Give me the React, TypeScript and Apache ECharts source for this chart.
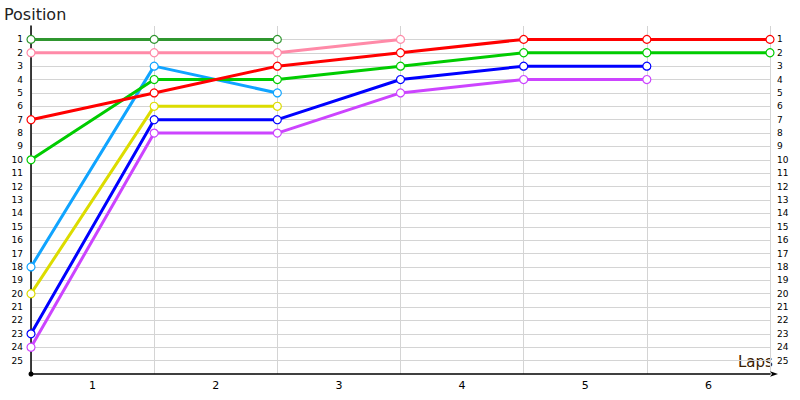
import React, { useEffect, useRef } from "react";
import * as echarts from "echarts";

const lapLabels = ["1", "2", "3", "4", "5", "6"];
const positionTicks = Array.from({ length: 25 }, (_, i) => i + 1);

const darkGreen = [1, 1, 1];
const pink = [2, 2, 2, 1];
const red = [7, 5, 3, 2, 1, 1, 1];
const green = [10, 4, 4, 3, 2, 2, 2];
const lightBlue = [18, 3, 5];
const yellow = [20, 6, 6];
const blue = [23, 7, 7, 4, 3, 3];
const purple = [24, 8, 8, 5, 4, 4];

const seriesDefs = [
  { name: "S1", data: darkGreen, color: "#2f962f" },
  { name: "S2", data: pink, color: "#ff8aa8" },
  { name: "S3", data: lightBlue, color: "#10a4ff" },
  { name: "S4", data: yellow, color: "#dcdc00" },
  { name: "S5", data: purple, color: "#cc44ff" },
  { name: "S6", data: blue, color: "#0000ff" },
  { name: "S7", data: green, color: "#00cc00" },
  { name: "S8", data: red, color: "#ff0000" },
];

export default function App() {
  const ref = useRef<HTMLDivElement>(null);
  useEffect(() => {
    if (!ref.current) return;
    const chart = echarts.init(ref.current, undefined, { renderer: "svg" });
    const splitColors = ["transparent", ...positionTicks.map(() => "#d4d4d4"), "transparent"];
    const labelFmt = (v: number) => (v >= 1 && v <= 25 ? String(v) : "");
    chart.setOption({
      animation: false,
      backgroundColor: "#ffffff",
      textStyle: { fontFamily: "DejaVu Sans" },
      grid: { left: 31, right: 30, top: 26, bottom: 26, containLabel: false },
      graphic: [
        {
          type: "text",
          left: 4,
          top: 6,
          style: { text: "Position", fontSize: 16, fill: "#222", fontFamily: "DejaVu Sans" },
        },
        {
          type: "text",
          left: 738,
          top: 354,
          style: { text: "Laps", fontSize: 15, fill: "#3a2000", fontFamily: "DejaVu Sans" },
        },
      ],
      xAxis: [
        {
          type: "value",
          min: 0,
          max: 6,
          interval: 1,
          axisLine: {
            show: true,
            onZero: false,
            lineStyle: { color: "#000", width: 1.5 },
            symbol: ["circle", "arrow"],
            symbolSize: [4, 8],
            symbolOffset: [0, 8],
          },
          axisTick: { show: false },
          axisLabel: { show: false },
          splitLine: { show: true, lineStyle: { color: "#d4d4d4", width: 1 } },
        },
        {
          type: "category",
          data: lapLabels,
          boundaryGap: true,
          position: "bottom",
          axisLine: { show: false },
          axisTick: { show: false },
          axisLabel: { color: "#000", fontSize: 11, margin: 6 },
          splitLine: { show: false },
        },
      ],
      yAxis: [
        {
          type: "value",
          inverse: true,
          min: 0,
          max: 26,
          interval: 1,
          position: "left",
          axisLine: {
            show: true,
            onZero: false,
            lineStyle: { color: "#000", width: 1.5 },
            symbol: ["circle", "none"],
            symbolSize: [5, 5],
          },
          axisTick: { show: false },
          axisLabel: { color: "#000", fontSize: 9, margin: 8, formatter: labelFmt },
          splitLine: { show: true, lineStyle: { color: splitColors, width: 1 } },
        },
        {
          type: "value",
          inverse: true,
          min: 0,
          max: 26,
          interval: 1,
          position: "right",
          offset: -1,
          axisLine: { show: false },
          axisTick: { show: false },
          axisLabel: { color: "#000", fontSize: 9, margin: 8, formatter: labelFmt },
          splitLine: { show: false },
        },
      ],
      series: seriesDefs.map((s) => ({
        type: "line",
        name: s.name,
        xAxisIndex: 0,
        yAxisIndex: 0,
        data: s.data.map((v, i) => [i, v]),
        symbol: "circle",
        symbolSize: 8,
        showAllSymbol: true,
        lineStyle: { color: s.color, width: 3 },
        itemStyle: { color: "#ffffff", borderColor: s.color, borderWidth: 1.2 },
        emphasis: { disabled: true },
      })),
    });
    return () => chart.dispose();
  }, []);
  return <div ref={ref} style={{ width: 800, height: 400, position: "absolute", left: 0, top: 0 }} />;
}
